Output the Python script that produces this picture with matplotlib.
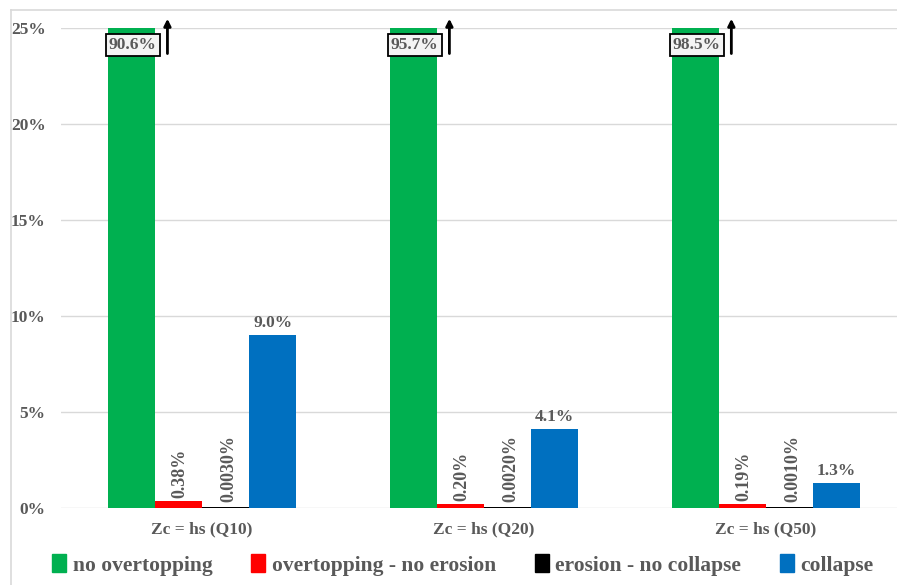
import numpy as np
import matplotlib.pyplot as plt
from matplotlib.patches import Patch
from matplotlib.lines import Line2D

# ---------- data ----------
groups = ["Zc = hs (Q10)", "Zc = hs (Q20)", "Zc = hs (Q50)"]
series = ["no overtopping", "overtopping - no erosion", "erosion - no collapse", "collapse"]
no_overtop = [90.6, 95.7, 98.5]
overtop_no_erosion = [0.38, 0.20, 0.19]
erosion_no_collapse = [0.0030, 0.0020, 0.0010]
collapse = [9.0, 4.1, 1.3]
lbl_overtop = ["0.38%", "0.20%", "0.19%"]
lbl_erosion = ["0.0030%", "0.0020%", "0.0010%"]
lbl_collapse = ["9.0%", "4.1%", "1.3%"]

YMAX = 25
colors = ["#00B050", "#FF0000", "#000000", "#0070C0"]
TXT = "#595959"

plt.rcParams.update({"font.family": "Liberation Serif", "font.weight": "bold"})

fig = plt.figure(figsize=(8.97, 5.85), dpi=100)
W, H = 897, 585
ax = fig.add_axes([61 / W, 1 - 508 / H, (W - 61) / W, (508 - 27.5) / H])

x = np.arange(len(groups))
w = 0.167
offs = np.array([-1.5, -0.5, 0.5, 1.5]) * w
vals = [no_overtop, overtop_no_erosion, erosion_no_collapse, collapse]
for off, v, c in zip(offs, vals, colors):
    ax.bar(x + off, np.minimum(v, YMAX), w, color=c, zorder=2)
# the tiny erosion bars still need a visible line
ax.bar(x + offs[2], [0.06] * 3, w, color=colors[2], zorder=2)

ax.set_xlim(-0.5, 2.465)
ax.set_ylim(0, YMAX)
ax.set_yticks(np.arange(0, 26, 5))
ax.set_yticklabels([f"{t}%" for t in range(0, 26, 5)])
ax.set_xticks(x)
ax.set_xticklabels(groups)
ax.tick_params(length=0, colors=TXT, labelsize=12.5)
ax.tick_params(axis="y", pad=11)
ax.tick_params(axis="x", pad=10)
ax.grid(axis="y", color="#D9D9D9", lw=1, zorder=0)
for s in ax.spines.values():
    s.set_visible(False)

# clipped green bars: boxed value + arrow pointing off the scale
for xi, v in zip(x, no_overtop):
    ax.text(xi + offs[0] + 0.005, 24.1, f"{v:.1f}%", ha="center", va="center",
            fontsize=12.5, color=TXT, zorder=4,
            bbox=dict(boxstyle="square,pad=0.18", fc="#F4F4F4", ec="black", lw=1.3))
    ax.annotate("", xy=(xi + offs[0] + 0.128, 25.6), xytext=(xi + offs[0] + 0.128, 23.5),
                arrowprops=dict(arrowstyle="-|>", color="black", lw=2, mutation_scale=10),
                annotation_clip=False, zorder=4)

for xi, v, t in zip(x, overtop_no_erosion, lbl_overtop):
    ax.text(xi + offs[1] + 0.005, v + 0.15, t, rotation=90, ha="center", va="bottom",
            fontsize=13, color=TXT)
for xi, v, t in zip(x, erosion_no_collapse, lbl_erosion):
    ax.text(xi + offs[2] + 0.012, v + 0.3, t, rotation=90, ha="center", va="bottom",
            fontsize=13, color=TXT)
for xi, v, t in zip(x, collapse, lbl_collapse):
    ax.text(xi + offs[3], v + 0.2, t, ha="center", va="bottom", fontsize=12.5, color=TXT)

handles = [Patch(color=c) for c in colors]
fig.legend(handles, series, loc="center", bbox_to_anchor=(463 / W, 1 - 565 / H), ncol=4,
           frameon=False, handlelength=0.65, handleheight=0.85, handletextpad=0.3,
           columnspacing=1.8, prop=dict(family="Liberation Serif", weight="bold", size=15.5),
           labelcolor=TXT)

# chart area border (top and left edges)
fig.add_artist(Line2D([11 / W, 1], [1 - 10 / H, 1 - 10 / H], color="#D9D9D9", lw=1.2))
fig.add_artist(Line2D([11 / W, 11 / W], [0, 1 - 10 / H], color="#D9D9D9", lw=1.2))

fig.savefig("out.png", dpi=100)
